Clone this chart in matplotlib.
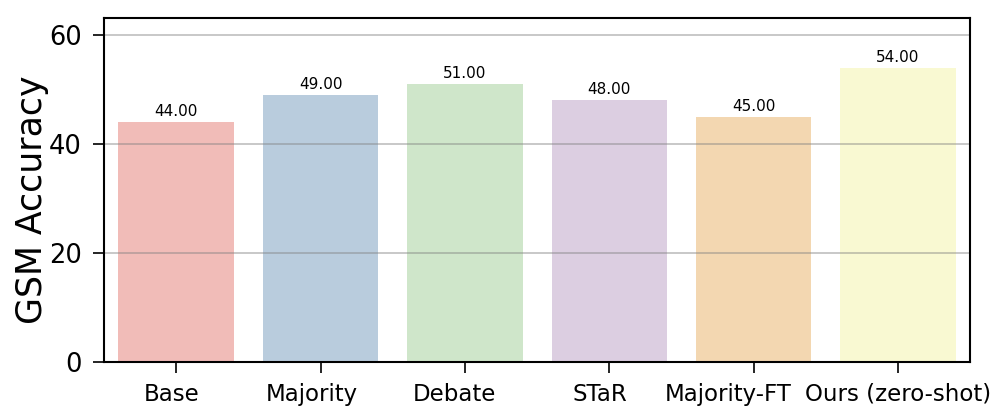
import matplotlib
matplotlib.use("Agg")
import matplotlib.pyplot as plt
import matplotlib.transforms as mtransforms
import seaborn as sns

categories = ["Base", "Majority", "Debate", "STaR", "Majority-FT", "Ours (zero-shot)"]
values = [44.0, 49.0, 51.0, 48.0, 45.0, 54.0]
yticks = [0, 20, 40, 60]

# horizontal nudges (pixels) of the x tick labels as seen in the reference
label_nudge_px = [-5, -9, -10, -9, -25, 0]

colors = [sns.desaturate(c, 0.75) for c in sns.color_palette("Pastel1", len(categories))]

fig = plt.figure(figsize=(9.9, 4.17), dpi=100)
ax = fig.add_axes([0.105, 0.132, 0.875, 0.825])
x = list(range(len(categories)))
bars = ax.bar(x, values, width=0.8, color=colors, zorder=1)
ax.bar_label(bars, labels=[f"{v:.2f}" for v in values], fontsize=11, padding=2)
ax.set_xlim(-0.5, len(categories) - 0.5)
ax.set_ylim(0, 63.1)
ax.set_yticks(yticks)
ax.set_xticks(x)
ax.set_xticklabels(categories, fontsize=16.5)
ax.tick_params(axis="y", labelsize=18.5, length=8, width=1.2, pad=8)
ax.tick_params(axis="x", length=8, width=1.2, pad=7)
for lbl, dx in zip(ax.get_xticklabels(), label_nudge_px):
    lbl.set_transform(lbl.get_transform() +
                      mtransforms.ScaledTranslation(dx / 100, 0, fig.dpi_scale_trans))
ax.yaxis.grid(True, color="gray", alpha=0.5, linewidth=1.2, zorder=1.5)
ax.set_axisbelow("line")
ax.set_ylabel("GSM Accuracy", fontsize=25, labelpad=0)
ax.yaxis.label.set_y(0.471)
for s in ax.spines.values():
    s.set_linewidth(1.5)
fig.savefig("out.png", dpi=100)
